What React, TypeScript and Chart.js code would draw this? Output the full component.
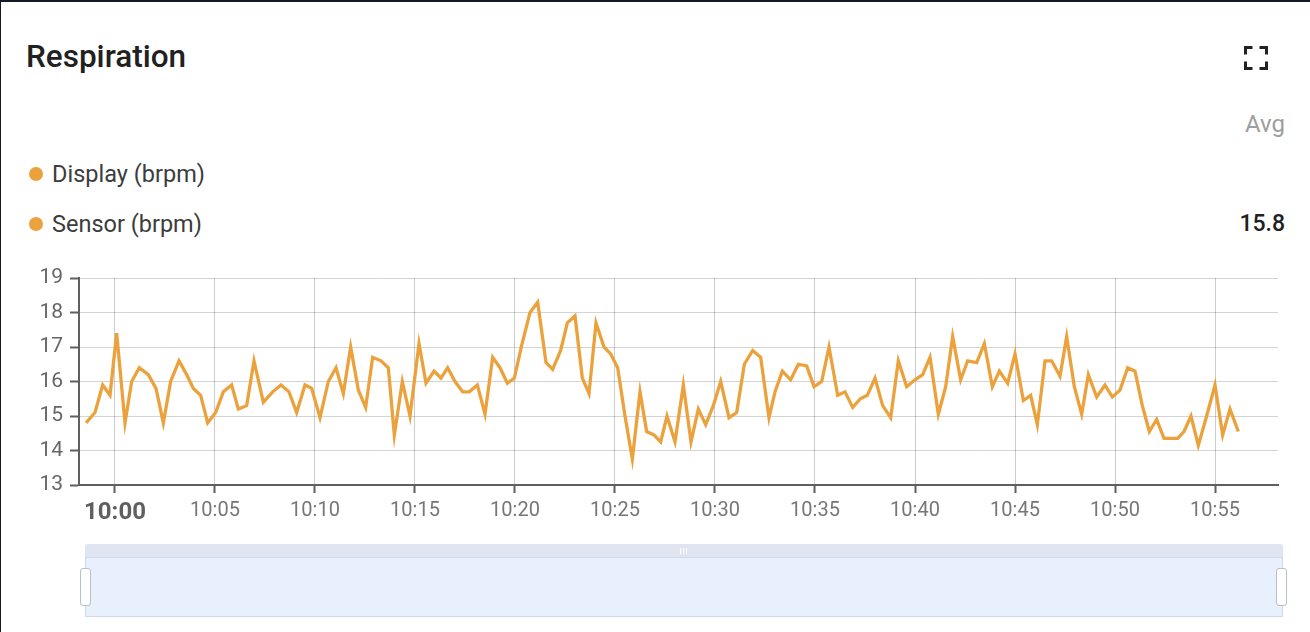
import React, { useEffect, useRef } from "react";
import { Chart, registerables } from "chart.js";

Chart.register(...registerables);

const TITLE = "Respiration";
const seriesNames = ["Display (brpm)", "Sensor (brpm)"];
const seriesAvg = ["", "15.8"];
const avgLabel = "Avg";
const lineColor = "#eba23c";

const sampleTimes = [
  "09:58:33", "09:59:00", "09:59:23", "09:59:45", "10:00:05", "10:00:30", "10:00:50", "10:01:13", "10:01:40", "10:02:03",
  "10:02:25", "10:02:47", "10:03:12", "10:03:35", "10:03:55", "10:04:17", "10:04:38", "10:05:02", "10:05:25", "10:05:50",
  "10:06:10", "10:06:35", "10:06:57", "10:07:25", "10:07:53", "10:08:18", "10:08:42", "10:09:05", "10:09:30", "10:09:50",
  "10:10:15", "10:10:40", "10:11:03", "10:11:25", "10:11:47", "10:12:10", "10:12:32", "10:12:53", "10:13:18", "10:13:40",
  "10:13:58", "10:14:22", "10:14:45", "10:15:12", "10:15:33", "10:15:57", "10:16:18", "10:16:38", "10:17:00", "10:17:23",
  "10:17:43", "10:18:07", "10:18:30", "10:18:53", "10:19:15", "10:19:37", "10:19:58", "10:20:20", "10:20:45", "10:21:08",
  "10:21:33", "10:21:53", "10:22:17", "10:22:37", "10:23:00", "10:23:22", "10:23:42", "10:24:03", "10:24:27", "10:24:47",
  "10:25:08", "10:25:30", "10:25:52", "10:26:15", "10:26:35", "10:26:57", "10:27:17", "10:27:36", "10:28:00", "10:28:25",
  "10:28:48", "10:29:10", "10:29:32", "10:29:55", "10:30:17", "10:30:42", "10:31:05", "10:31:28", "10:31:53", "10:32:17",
  "10:32:42", "10:33:00", "10:33:22", "10:33:47", "10:34:10", "10:34:35", "10:34:57", "10:35:20", "10:35:42", "10:36:08",
  "10:36:30", "10:36:53", "10:37:16", "10:37:37", "10:38:00", "10:38:23", "10:38:47", "10:39:10", "10:39:35", "10:40:00",
  "10:40:23", "10:40:45", "10:41:10", "10:41:32", "10:41:53", "10:42:17", "10:42:38", "10:43:05", "10:43:28", "10:43:52",
  "10:44:13", "10:44:38", "10:45:00", "10:45:25", "10:45:47", "10:46:07", "10:46:30", "10:46:50", "10:47:15", "10:47:35",
  "10:47:58", "10:48:20", "10:48:40", "10:49:05", "10:49:30", "10:49:52", "10:50:15", "10:50:38", "10:51:00", "10:51:22",
  "10:51:43", "10:52:05", "10:52:27", "10:52:48", "10:53:08", "10:53:27", "10:53:48", "10:54:10", "10:54:35", "10:55:00",
  "10:55:23", "10:55:45", "10:56:10",
];

const sensorValues = [
  14.8, 15.1, 15.9, 15.6, 17.4, 14.8, 16.0, 16.4, 16.2, 15.8,
  14.8, 16.0, 16.6, 16.2, 15.8, 15.6, 14.8, 15.1, 15.7, 15.9,
  15.2, 15.3, 16.6, 15.4, 15.7, 15.9, 15.7, 15.1, 15.9, 15.8,
  14.95, 16.0, 16.4, 15.65, 17.0, 15.75, 15.25, 16.7, 16.6, 16.4,
  14.45, 16.0, 15.0, 17.1, 15.95, 16.3, 16.1, 16.4, 16.0, 15.7,
  15.7, 15.9, 15.05, 16.7, 16.4, 15.95, 16.1, 17.05, 18.0, 18.3,
  16.55, 16.35, 16.9, 17.7, 17.9, 16.1, 15.65, 17.7, 17.0, 16.8,
  16.4, 15.0, 13.75, 15.7, 14.55, 14.45, 14.25, 15.0, 14.25, 15.9,
  14.25, 15.2, 14.75, 15.3, 16.0, 14.95, 15.1, 16.5, 16.9, 16.7,
  14.95, 15.7, 16.3, 16.05, 16.5, 16.45, 15.85, 16.0, 17.0, 15.6,
  15.7, 15.25, 15.5, 15.6, 16.1, 15.3, 14.95, 16.6, 15.85, 16.05,
  16.2, 16.7, 15.05, 15.85, 17.3, 16.05, 16.6, 16.55, 17.1, 15.85,
  16.3, 15.95, 16.8, 15.45, 15.6, 14.75, 16.6, 16.6, 16.15, 17.3,
  15.85, 15.05, 16.2, 15.55, 15.9, 15.55, 15.75, 16.4, 16.3, 15.3,
  14.55, 14.9, 14.35, 14.35, 14.35, 14.55, 15.0, 14.15, 15.0, 15.9,
  14.45, 15.2, 14.55,
];

const xTickLabels = ["10:00", "10:05", "10:10", "10:15", "10:20", "10:25", "10:30", "10:35", "10:40", "10:45", "10:50", "10:55"];
const xRange = ["09:58:12", "10:58:09"];
const yMin = 13;
const yMax = 19;

const BASE = "10:00:00";
function toMinutes(t: string): number {
  const [h, m, s] = t.split(":").map(Number);
  const [bh, bm, bs] = BASE.split(":").map(Number);
  return h * 60 + m + (s || 0) / 60 - (bh * 60 + bm + (bs || 0) / 60);
}

const FONT = "Roboto, 'Noto Sans', sans-serif";

function RespirationChart() {
  const ref = useRef<HTMLCanvasElement | null>(null);
  useEffect(() => {
    if (!ref.current) return;
    const points = sampleTimes.map((t, i) => ({ x: toMinutes(t), y: sensorValues[i] }));
    const tickValues = xTickLabels.map((l) => toMinutes(l + ":00"));
    const chart = new Chart(ref.current, {
      type: "line",
      data: {
        datasets: [
          {
            label: seriesNames[1],
            data: points,
            borderColor: lineColor,
            borderWidth: 3.3,
            pointRadius: 0,
            tension: 0,
            fill: false,
          },
        ],
      },
      options: {
        animation: false,
        responsive: false,
        maintainAspectRatio: false,
        layout: { padding: { top: 20, right: 32, left: 0, bottom: 0 } },
        plugins: { legend: { display: false }, tooltip: { enabled: false } },
        scales: {
          x: {
            type: "linear",
            min: toMinutes(xRange[0]),
            max: toMinutes(xRange[1]),
            afterBuildTicks: (scale: any) => {
              scale.ticks = tickValues.map((v) => ({ value: v }));
            },
            afterFit: (scale: any) => {
              scale.height = 45;
            },
            grid: {
              color: "rgba(0,0,0,0.2)",
              lineWidth: 1,
              tickLength: 8,
              tickColor: "#5f5f5f",
              tickWidth: 2,
            },
            border: { color: "#5f5f5f", width: 2 },
            ticks: {
              autoSkip: false,
              maxRotation: 0,
              padding: 6,
              callback: (_v: any, i: number) => xTickLabels[i],
              color: (ctx: any) => (ctx.index === 0 ? "#5f5f5f" : "#777"),
              font: (ctx: any) =>
                ctx.index === 0
                  ? { family: FONT, size: 24, weight: "bold" }
                  : { family: FONT, size: 20 },
            },
          },
          y: {
            min: yMin,
            max: yMax,
            afterFit: (scale: any) => {
              scale.width = 79;
            },
            grid: {
              color: "rgba(0,0,0,0.17)",
              lineWidth: 1,
              tickLength: 9,
              tickColor: "#5f5f5f",
              tickWidth: 2,
            },
            border: { color: "#5f5f5f", width: 2 },
            ticks: {
              stepSize: 1,
              padding: 7,
              color: "#666",
              font: { family: FONT, size: 21 },
            },
          },
        },
      },
    });
    return () => chart.destroy();
  }, []);
  return <canvas ref={ref} width={1310} height={272} style={{ display: "block", width: 1310, height: 272 }} />;
}

export default function App() {
  const abs = (o: React.CSSProperties): React.CSSProperties => ({ position: "absolute", ...o });
  return (
    <div
      style={{
        position: "absolute",
        left: 0,
        top: 0,
        width: 1310,
        height: 632,
        overflow: "hidden",
        background: "#fff",
        fontFamily: FONT,
      }}
    >
      <div style={abs({ left: 0, top: 0, width: 1310, height: 2, background: "#141a26" })} />
      <div style={abs({ left: 0, top: 0, width: 1, height: 632, background: "#141a26" })} />

      <div style={abs({ left: 26, top: 37, fontSize: 31.5, fontWeight: 500, color: "#212121", lineHeight: "40px" })}>
        {TITLE}
      </div>
      <svg style={abs({ left: 1244, top: 46 })} width={24} height={24} viewBox="0 0 24 24">
        <path
          d="M1.5 8.5V1.5h7 M15.5 1.5h7v7 M22.5 15.5v7h-7 M8.5 22.5h-7v-7"
          fill="none"
          stroke="#222"
          strokeWidth={3}
        />
      </svg>

      <div style={abs({ right: 25, top: 108, fontSize: 24, color: "#9e9e9e", lineHeight: "32px" })}>{avgLabel}</div>

      {seriesNames.map((name, i) => (
        <React.Fragment key={name}>
          <div
            style={abs({
              left: 29,
              top: 167 + i * 50,
              width: 14,
              height: 14,
              borderRadius: 7,
              background: lineColor,
            })}
          />
          <div style={abs({ left: 52, top: 158 + i * 50, fontSize: 23.5, color: "#3c3c3c", lineHeight: "32px" })}>
            {name}
          </div>
          {seriesAvg[i] ? (
            <div
              style={abs({
                right: 25,
                top: 208 + (i - 1) * 50,
                fontSize: 23,
                fontWeight: 500,
                color: "#212121",
                lineHeight: "32px",
              })}
            >
              {seriesAvg[i]}
            </div>
          ) : null}
        </React.Fragment>
      ))}

      <div style={abs({ left: 0, top: 258, width: 1310, height: 272 })}>
        <RespirationChart />
      </div>

      {/* range slider */}
      <div
        style={abs({
          left: 85,
          top: 544,
          width: 1198,
          height: 13,
          background: "#e0e5f1",
          borderRadius: "3px 3px 0 0",
        })}
      />
      {[0, 1, 2].map((k) => (
        <div key={k} style={abs({ left: 680 + k * 3, top: 548, width: 1, height: 6, background: "#fff" })} />
      ))}
      <div
        style={abs({
          left: 85,
          top: 557,
          width: 1196,
          height: 58,
          background: "#e8f0fd",
          border: "1px solid #d0d9ea",
        })}
      />
      {[80, 1276].map((x) => (
        <div
          key={x}
          style={abs({
            left: x,
            top: 568,
            width: 9,
            height: 36,
            background: "#fff",
            border: "1.5px solid #b8bfcc",
            borderRadius: 3,
          })}
        />
      ))}
    </div>
  );
}
